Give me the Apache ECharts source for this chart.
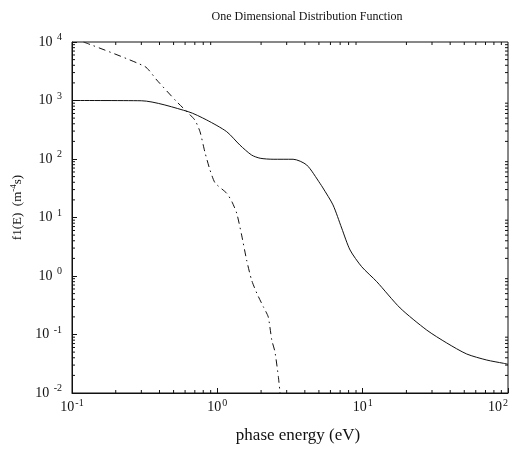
<!DOCTYPE html>
<html>
<head>
<meta charset="utf-8">
<script src="https://cdn.jsdelivr.net/npm/echarts@6/dist/echarts.min.js"></script>
<style>
  html, body { margin: 0; padding: 0; background: #fff; }
  #chart { width: 512px; height: 457px; }
</style>
</head>
<body>
<div id="chart"></div>
<script>
// Solid curve
var solidE = [0.1, 0.3, 0.63, 0.845, 1.16, 1.43, 1.72, 1.97, 2.42, 3.32, 4.12, 5.08, 5.33, 6.25, 7.17, 8.19, 9.85, 12.5, 18.1, 27.6, 37.9, 52, 71.4, 93, 100];
var solidF = [1000, 990, 645, 464, 293, 173, 117, 103, 99, 99, 79, 38.5, 32, 16.4, 6.6, 2.78, 1.44, 0.80, 0.284, 0.119, 0.0716, 0.0464, 0.0366, 0.0322, 0.031];

// Dash-dot curve
var dashE = [0.12, 0.318, 0.383, 0.525, 0.6, 0.70, 0.76, 0.82, 0.89, 0.965, 1.16, 1.26, 1.36, 1.47, 1.59, 1.72, 1.87, 2.07, 2.24, 2.37, 2.49, 2.63, 2.70];
var dashF = [10000, 3800, 2240, 955, 690, 464, 293, 133, 65, 39, 26, 18.6, 11.8, 5.0, 1.88, 0.855, 0.506, 0.30, 0.20, 0.080, 0.051, 0.019, 0.01];

// Minor tick positions (decades 2..9)
var xDecades = [0.1, 1, 10];
var yDecades = [0.01, 0.1, 1, 10, 100, 1000];

var chart = echarts.init(document.getElementById('chart'));

function zip(a, b) {
    return a.map(function (v, i) { return [v, b[i]]; });
}

function powLabel(v) {
    var e = Math.round(Math.log10(v));
    return '{b|10}{s|' + e + '}';
}

var minorTicks = [];
xDecades.forEach(function (d) {
    for (var k = 2; k <= 9; k++) minorTicks.push([d * k, 1, 'x']);
});
yDecades.forEach(function (d) {
    for (var k = 2; k <= 9; k++) minorTicks.push([1, d * k, 'y']);
});

var font = '"Liberation Serif", "DejaVu Serif", serif';
var rich = {
    b: { fontFamily: font, fontSize: 14, color: '#111' },
    s: { fontFamily: font, fontSize: 10, color: '#111', verticalAlign: 'bottom', padding: [0, 0, 9, 1] }
};

chart.setOption({
    animation: false,
    backgroundColor: '#fff',
    title: {
        text: 'One Dimensional Distribution Function',
        left: 302,
        top: 6,
        textAlign: 'center',
        textStyle: { fontFamily: font, fontSize: 12, fontWeight: 'normal', color: '#111' }
    },
    grid: { left: 72, right: 4, top: 42, bottom: 64, outerBoundsMode: 'none', containLabel: false },
    xAxis: {
        type: 'log',
        logBase: 10,
        min: 0.1,
        max: 100,
        name: 'phase energy (eV)',
        nameLocation: 'middle',
        nameGap: 34,
        nameTextStyle: { fontFamily: font, fontSize: 17, color: '#111', padding: [0, 0, 0, 16] },
        axisLine: { show: true, onZero: false, lineStyle: { color: '#111', width: 1 } },
        axisTick: { inside: true, length: 5, lineStyle: { color: '#111' } },
        axisLabel: { formatter: powLabel, rich: rich, margin: 5, alignMaxLabel: 'right' },
        splitLine: { show: false }
    },
    yAxis: {
        type: 'log',
        logBase: 10,
        min: 0.01,
        max: 10000,
        name: '{b|f1(E)  (m}{s|-4}{b|s)}',
        nameLocation: 'middle',
        nameGap: 45,
        nameRotate: 90,
        nameTextStyle: {
            rich: {
                b: { fontFamily: font, fontSize: 13, color: '#111' },
                s: { fontFamily: font, fontSize: 9, color: '#111', verticalAlign: 'bottom', padding: [0, 0, 8, 0] }
            },
            padding: [0, 0, 0, 20]
        },
        axisLine: { show: true, onZero: false, lineStyle: { color: '#111', width: 1 } },
        axisTick: { inside: true, length: 5, lineStyle: { color: '#111' } },
        axisLabel: { formatter: function (v) {
            var e = Math.round(Math.log10(v));
            return '{b|10 }{s|' + e + '}';
        }, rich: rich, margin: 10 },
        splitLine: { show: false }
    },
    series: [
        {
            // minor ticks on all four sides
            type: 'custom',
            silent: true,
            data: minorTicks,
            renderItem: function (params, api) {
                var cs = params.coordSys;
                var kind = minorTicks[params.dataIndex][2];
                var len = 3;
                var st = { stroke: '#111', lineWidth: 1 };
                if (kind === 'x') {
                    var px = api.coord([api.value(0), 1])[0];
                    return { type: 'group', children: [
                        { type: 'line', shape: { x1: px, y1: cs.y + cs.height, x2: px, y2: cs.y + cs.height - len }, style: st },
                        { type: 'line', shape: { x1: px, y1: cs.y, x2: px, y2: cs.y + len }, style: st }
                    ] };
                }
                var py = api.coord([1, api.value(1)])[1];
                return { type: 'group', children: [
                    { type: 'line', shape: { x1: cs.x, y1: py, x2: cs.x + len, y2: py }, style: st },
                    { type: 'line', shape: { x1: cs.x + cs.width, y1: py, x2: cs.x + cs.width - len, y2: py }, style: st }
                ] };
            },
            z: 1
        },
        {
            name: 'frame',
            type: 'custom',
            silent: true,
            data: [[1, 1]],
            renderItem: function (params, api) {
                var cs = params.coordSys;
                return {
                    type: 'rect',
                    shape: { x: cs.x, y: cs.y, width: cs.width, height: cs.height },
                    style: { fill: 'none', stroke: '#111', lineWidth: 1 }
                };
            },
            z: 1
        },
        {
            name: 'solid',
            type: 'line',
            data: zip(solidE, solidF),
            showSymbol: false,
            smooth: 0.25,
            lineStyle: { color: '#111', width: 1 },
            z: 3
        },
        {
            name: 'dashdot',
            type: 'line',
            data: zip(dashE, dashF),
            showSymbol: false,
            smooth: 0.2,
            lineStyle: { color: '#111', width: 1, type: [7, 4, 1.5, 4] },
            z: 3
        }
    ]
});
</script>
</body>
</html>
